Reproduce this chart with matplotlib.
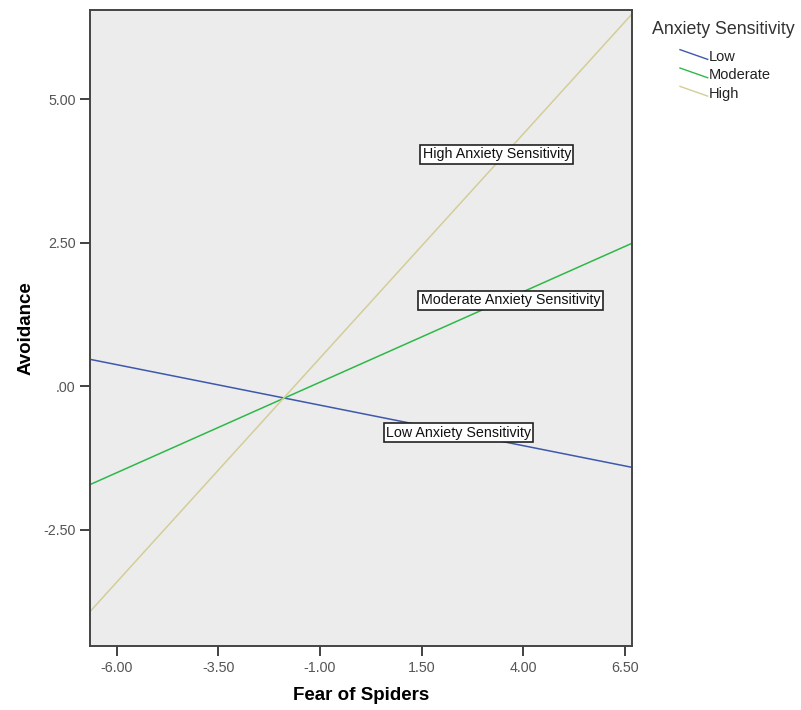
import matplotlib.pyplot as plt
from matplotlib.legend_handler import HandlerBase
from matplotlib.lines import Line2D
from matplotlib.ticker import FuncFormatter

plt.rcParams['font.family'] = ['Liberation Sans', 'DejaVu Sans']

# Simple slopes of Avoidance on Fear of Spiders
x_ends = [-6.66, 6.68]
low = [0.47, -1.41]
moderate = [-1.71, 2.49]
high = [-3.92, 6.48]
series_names = ['Low', 'Moderate', 'High']
colors = ['#3e58ac', '#2eb848', '#d3ce97']

x_ticks = [-6.0, -3.5, -1.0, 1.5, 4.0, 6.5]
y_ticks = [-2.5, 0.0, 2.5, 5.0]

labels = ['High Anxiety Sensitivity', 'Moderate Anxiety Sensitivity', 'Low Anxiety Sensitivity']
label_x = [3.35, 3.69, 2.41]
label_y = [4.04, 1.50, -0.81]


class SlantHandler(HandlerBase):
    # legend swatch drawn as a short line sloping down to the right
    def create_artists(self, legend, orig_handle, xdescent, ydescent,
                       width, height, fontsize, trans):
        mid = height / 2 - ydescent
        line = Line2D([-xdescent, -xdescent + width],
                      [mid + 4.5, mid - 2.5],
                      color=orig_handle.get_color(), linewidth=1.0)
        line.set_transform(trans)
        return [line]


def fmt(v, pos):
    s = '%.2f' % v
    if s.startswith('0.'):
        s = s[1:]
    return s


fig = plt.figure(figsize=(8.01, 7.10), dpi=100)
ax = fig.add_axes([0.1124, 0.0901, 0.6766, 0.8958])
ax.set_facecolor('#ececec')

handles = []
for vals, name, c in zip([low, moderate, high], series_names, colors):
    h, = ax.plot(x_ends, vals, color=c, linewidth=1.1, label=name)
    handles.append(h)

for txt, lx, ly in zip(labels, label_x, label_y):
    ax.text(lx, ly, txt, ha='center', va='center', fontsize=10.3, color='#111111',
            bbox=dict(boxstyle='square,pad=0.17', facecolor='white',
                      edgecolor='#222222', linewidth=1.2))

ax.set_xlim(x_ends[0], x_ends[1])
ax.set_ylim(-4.52, 6.55)
ax.set_xticks(x_ticks)
ax.set_yticks(y_ticks)
ax.xaxis.set_major_formatter(FuncFormatter(fmt))
ax.yaxis.set_major_formatter(FuncFormatter(fmt))
ax.tick_params(axis='both', direction='out', length=7, width=1.3,
               color='#333333', labelsize=10.3, labelcolor='#555555')
for sp in ax.spines.values():
    sp.set_color('#444444')
    sp.set_linewidth(1.4)

ax.set_xlabel('Fear of Spiders', fontsize=13.5, fontweight='bold', labelpad=9)
ax.set_ylabel('Avoidance', fontsize=13.5, fontweight='bold', labelpad=6)

fig.text(652 / 801, 1 - 30 / 710, 'Anxiety Sensitivity', fontsize=12.8,
         color='#333333', ha='left', va='center')
leg = fig.legend(handles=handles, labels=series_names,
                 loc='upper left', bbox_to_anchor=(680 / 801, 1 - 50 / 710),
                 frameon=False, fontsize=10.5, borderpad=0, borderaxespad=0,
                 handler_map={Line2D: SlantHandler()},
                 handlelength=1.9, handletextpad=0.1, labelspacing=0.3)
for t in leg.get_texts():
    t.set_color('#222222')

fig.savefig('out.png', dpi=100)
